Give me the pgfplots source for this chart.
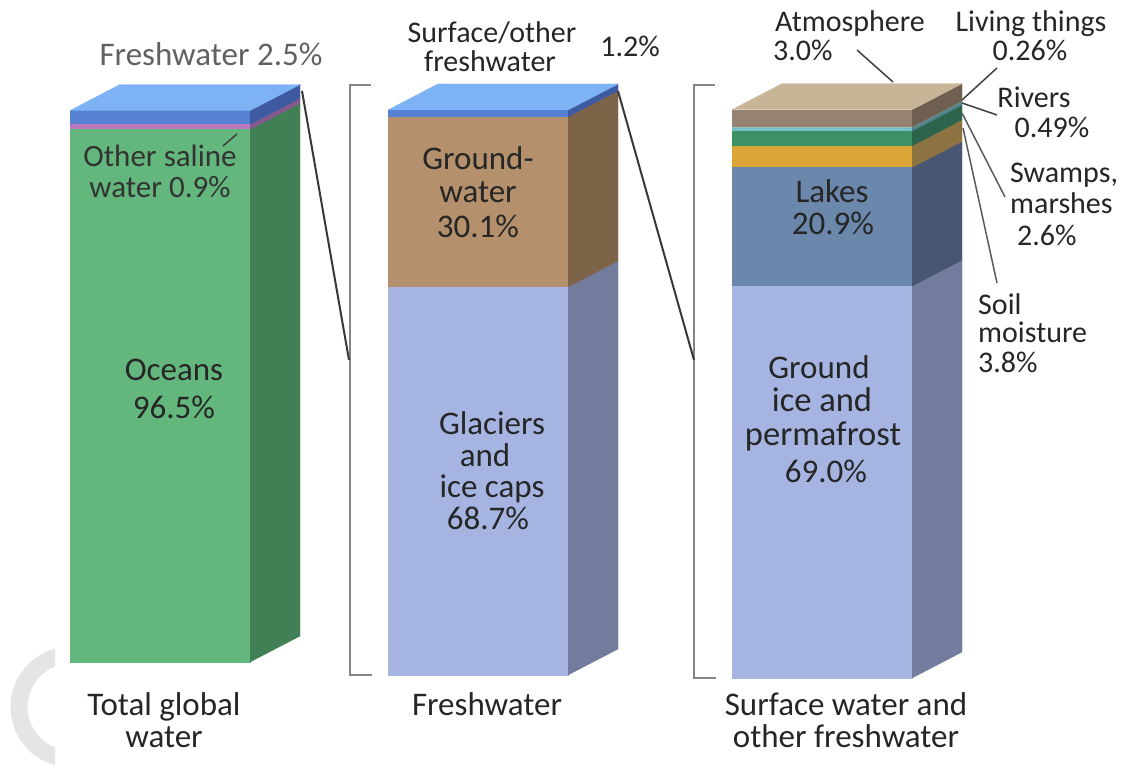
\documentclass[border=0pt]{standalone}
\usepackage{pgfplots}
\pgfplotsset{compat=1.18}
\usepackage{fontspec}
\setmainfont{Carlito}
\definecolor{txt}{HTML}{262626}
\definecolor{oceanF}{HTML}{63B67C}\definecolor{oceanS}{HTML}{408054}
\definecolor{salF}{HTML}{BA78BA}\definecolor{salS}{HTML}{855A8C}
\definecolor{freshF}{HTML}{5582D2}\definecolor{freshS}{HTML}{3E5AA0}\definecolor{freshT}{HTML}{7DB2F5}
\definecolor{iceF}{HTML}{A6B4E2}\definecolor{iceS}{HTML}{737C9C}
\definecolor{gwF}{HTML}{B4916C}\definecolor{gwS}{HTML}{7D6448}
\definecolor{lakeF}{HTML}{6B88AC}\definecolor{lakeS}{HTML}{485672}
\definecolor{soilF}{HTML}{DCA537}\definecolor{soilS}{HTML}{8C7341}
\definecolor{swF}{HTML}{3C9164}\definecolor{swS}{HTML}{2B644B}
\definecolor{rivF}{HTML}{78BEC8}\definecolor{rivS}{HTML}{50828C}
\definecolor{livF}{HTML}{9FC4BE}\definecolor{livS}{HTML}{6A8A86}
\definecolor{atmF}{HTML}{968270}\definecolor{atmS}{HTML}{6E5F50}\definecolor{atmT}{HTML}{C8B496}
\pgfplotsset{base/.style={at={(0,0)},anchor=south west,scale only axis,width=1126pt,height=778pt,hide axis,clip=false,xmin=0,xmax=1126},
 fr/.style={fill=#1,draw=#1,line width=0.4pt},
 face/.style={fill=#1,draw=#1,line width=0.4pt}}
\newcommand\fa{\fontsize{33}{33}\selectfont}
\newcommand\fb{\fontsize{30}{30}\selectfont}
\newcommand\fc{\fontsize{31}{31}\selectfont}
\begin{document}
\begin{tikzpicture}
\useasboundingbox (0,0) rectangle (1126pt,778pt);
% decorative arc
\begin{scope}
\clip (0,0) rectangle (55pt,778pt);
\draw[color=black!10, line width=17pt] (71pt,71pt) circle (52pt);
\end{scope}
% ---------- Bar 1: total global water
\begin{axis}[base, ymin=-21.0145, ymax=119.928, ybar stacked, bar width=180]
\addplot[fr=oceanF] coordinates {(160,96.5)};
\addplot[fr=salF] coordinates {(160,0.9)};
\addplot[fr=freshF] coordinates {(160,2.5)};
\end{axis}
\begin{axis}[base, ymin=-21.0145, ymax=119.928]
\addplot[face=oceanS] coordinates {(250,0)(300,4.71)(300,101.21)(250,96.5)};
\addplot[face=salS] coordinates {(250,96.5)(300,101.21)(300,102.11)(250,97.4)};
\addplot[face=freshS] coordinates {(250,97.4)(300,102.11)(300,104.61)(250,99.9)};
\addplot[face=freshT] coordinates {(70,99.9)(120,104.61)(300,104.61)(250,99.9)};
\end{axis}
% ---------- Bar 2: freshwater
\begin{axis}[base, ymin=-18.230, ymax=119.469, ybar stacked, bar width=180]
\addplot[fr=iceF] coordinates {(478,68.7)};
\addplot[fr=gwF] coordinates {(478,30.1)};
\addplot[fr=freshF] coordinates {(478,1.2)};
\end{axis}
\begin{axis}[base, ymin=-18.230, ymax=119.469]
\addplot[face=iceS] coordinates {(568,0)(618,4.602)(618,73.302)(568,68.7)};
\addplot[face=gwS] coordinates {(568,68.7)(618,73.302)(618,103.402)(568,98.8)};
\addplot[face=freshS] coordinates {(568,98.8)(618,103.402)(618,104.602)(568,100)};
\addplot[face=freshT] coordinates {(388,100)(438,104.602)(618,104.602)(568,100)};
\end{axis}
% ---------- Bar 3: surface water and other freshwater
\begin{axis}[base, ymin=-17.606, ymax=119.366, ybar stacked, bar width=180]
\addplot[fr=iceF] coordinates {(822,69.0)};
\addplot[fr=lakeF] coordinates {(822,20.9)};
\addplot[fr=soilF] coordinates {(822,3.8)};
\addplot[fr=swF] coordinates {(822,2.6)};
\addplot[fr=rivF] coordinates {(822,0.49)};
\addplot[fr=livF] coordinates {(822,0.26)};
\addplot[fr=atmF] coordinates {(822,3.0)};
\end{axis}
\begin{axis}[base, ymin=-17.606, ymax=119.366]
\addplot[face=iceS] coordinates {(912,0)(962,4.577)(962,73.577)(912,69)};
\addplot[face=lakeS] coordinates {(912,69)(962,73.577)(962,94.477)(912,89.9)};
\addplot[face=soilS] coordinates {(912,89.9)(962,94.477)(962,98.277)(912,93.7)};
\addplot[face=swS] coordinates {(912,93.7)(962,98.277)(962,100.877)(912,96.3)};
\addplot[face=rivS] coordinates {(912,96.3)(962,100.877)(962,101.367)(912,96.79)};
\addplot[face=livS] coordinates {(912,96.79)(962,101.367)(962,101.627)(912,97.05)};
\addplot[face=atmS] coordinates {(912,97.05)(962,101.627)(962,104.627)(912,100.05)};
\addplot[face=atmT] coordinates {(732,100.05)(782,104.627)(962,104.627)(912,100.05)};
\end{axis}
% ---------- annotations in pixel frame
\begin{axis}[base, ymin=0, ymax=778, y dir=reverse]
% brackets and connectors
\draw[color=black!48, line width=2pt] (axis cs:371,85) -- (axis cs:350,85) -- (axis cs:350,675) -- (axis cs:372,675);
\draw[color=black!48, line width=2pt] (axis cs:715,85) -- (axis cs:694,85) -- (axis cs:694,678) -- (axis cs:716,678);
\draw[color=black!78, line width=2pt] (axis cs:302,91) -- (axis cs:349,360);
\draw[color=black!78, line width=2pt] (axis cs:618,91) -- (axis cs:694,360);
% leader lines
\draw[color=black!75, line width=1.5pt] (axis cs:223,146) -- (axis cs:237,134);
\draw[color=black!75, line width=1.5pt] (axis cs:857,50) -- (axis cs:893,82);
\draw[color=black!75, line width=1.5pt] (axis cs:997,68) -- (axis cs:962,100);
\draw[color=black!75, line width=1.5pt] (axis cs:962,103) -- (axis cs:997,115);
\draw[color=black!65, line width=1.5pt] (axis cs:962,113) -- (axis cs:1005,197);
\draw[color=black!65, line width=1.5pt] (axis cs:963,128) -- (axis cs:997,283);
% bar 1 texts
\node[anchor=base, inner sep=0, text=black!62] at (axis cs:211,66) {\fa Freshwater 2.5\%};
\node[anchor=base, inner sep=0, text=black!80] at (axis cs:160,167) {\fc Other saline};
\node[anchor=base, inner sep=0, text=black!80] at (axis cs:160,198) {\fc water 0.9\%};
\node[anchor=base, inner sep=0, text=txt] at (axis cs:174,380) {\fa Oceans};
\node[anchor=base, inner sep=0, text=txt] at (axis cs:174,418) {\fa 96.5\%};
\node[anchor=base, inner sep=0, text=txt] at (axis cs:164,715) {\fa Total global};
\node[anchor=base, inner sep=0, text=txt] at (axis cs:164,747) {\fa water};
% bar 2 texts
\node[anchor=base, inner sep=0, text=txt] at (axis cs:492,43) {\fb Surface/other};
\node[anchor=base, inner sep=0, text=txt] at (axis cs:490,72) {\fb freshwater};
\node[anchor=base, inner sep=0, text=txt] at (axis cs:630,57) {\fb 1.2\%};
\node[anchor=base, inner sep=0, text=txt] at (axis cs:478,170) {\fa Ground-};
\node[anchor=base, inner sep=0, text=txt] at (axis cs:478,203) {\fa water};
\node[anchor=base, inner sep=0, text=txt] at (axis cs:478,237) {\fa 30.1\%};
\node[anchor=base, inner sep=0, text=txt] at (axis cs:492,434) {\fa Glaciers};
\node[anchor=base, inner sep=0, text=txt] at (axis cs:485,466) {\fa and};
\node[anchor=base, inner sep=0, text=txt] at (axis cs:492,497) {\fa ice caps};
\node[anchor=base, inner sep=0, text=txt] at (axis cs:488,529) {\fa 68.7\%};
\node[anchor=base, inner sep=0, text=txt] at (axis cs:487,715) {\fa Freshwater};
% bar 3 texts
\node[anchor=base, inner sep=0, text=txt] at (axis cs:832,203) {\fa Lakes};
\node[anchor=base, inner sep=0, text=txt] at (axis cs:833,235) {\fa 20.9\%};
\node[anchor=base, inner sep=0, text=txt] at (axis cs:819,378) {\fa Ground};
\node[anchor=base, inner sep=0, text=txt] at (axis cs:822,411) {\fontsize{34.5}{34}\selectfont ice and};
\node[anchor=base, inner sep=0, text=txt] at (axis cs:823,445) {\fontsize{34.5}{34}\selectfont permafrost};
\node[anchor=base, inner sep=0, text=txt] at (axis cs:826,482) {\fa 69.0\%};
\node[anchor=base west, inner sep=0, text=txt] at (axis cs:775,32) {\fb Atmosphere};
\node[anchor=base west, inner sep=0, text=txt] at (axis cs:773,61) {\fb 3.0\%};
\node[anchor=base, inner sep=0, text=txt] at (axis cs:1031,32) {\fb Living things};
\node[anchor=base, inner sep=0, text=txt] at (axis cs:1030,61) {\fb 0.26\%};
\node[anchor=base, inner sep=0, text=txt] at (axis cs:1034,108) {\fb Rivers};
\node[anchor=base, inner sep=0, text=txt] at (axis cs:1052,138) {\fb 0.49\%};
\node[anchor=base west, inner sep=0, text=txt] at (axis cs:1010,183) {\fb Swamps,};
\node[anchor=base west, inner sep=0, text=txt] at (axis cs:1010,214) {\fb marshes};
\node[anchor=base west, inner sep=0, text=txt] at (axis cs:1017,245) {\fb 2.6\%};
\node[anchor=base west, inner sep=0, text=txt] at (axis cs:978,314) {\fb Soil};
\node[anchor=base west, inner sep=0, text=txt] at (axis cs:978,342) {\fb moisture};
\node[anchor=base west, inner sep=0, text=txt] at (axis cs:978,372) {\fb 3.8\%};
\node[anchor=base, inner sep=0, text=txt] at (axis cs:846,715) {\fa Surface water and};
\node[anchor=base, inner sep=0, text=txt] at (axis cs:846,747) {\fa other freshwater};
\end{axis}
\end{tikzpicture}
\end{document}
